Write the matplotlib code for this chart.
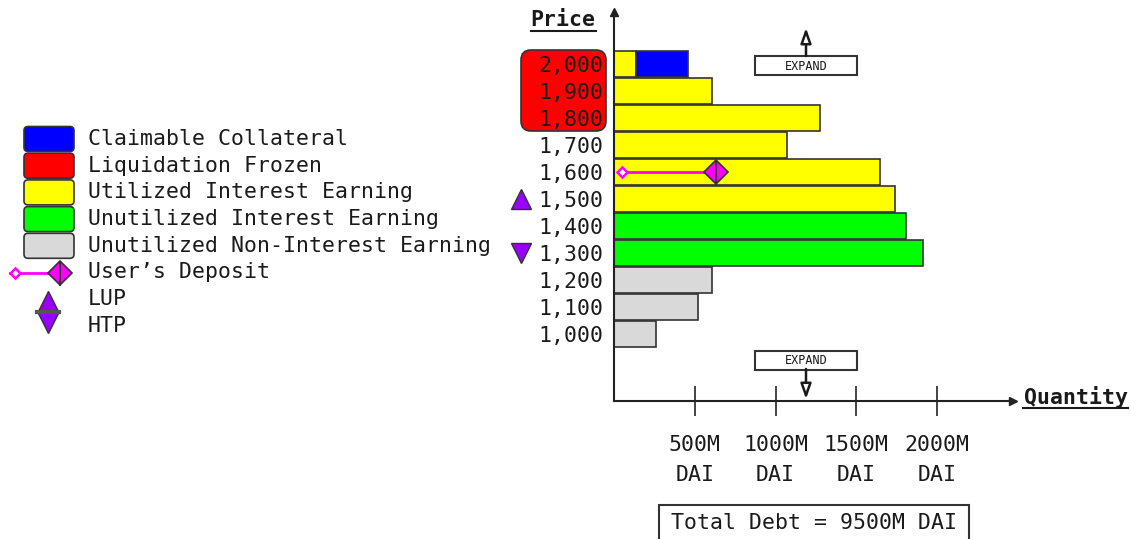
import matplotlib.pyplot as plt
from matplotlib.patches import Rectangle, FancyBboxPatch

plt.rcParams['font.family'] = ['DejaVu Sans Mono']

# bucket prices and the quantity (M DAI) deposited in each
prices = [2000, 1900, 1800, 1700, 1600, 1500, 1400, 1300, 1200, 1100, 1000]
price_labels = ['2,000', '1,900', '1,800', '1,700', '1,600', '1,500',
                '1,400', '1,300', '1,200', '1,100', '1,000']
quantity = [136, 607, 1275, 1071, 1647, 1740, 1808, 1913, 607, 520, 260]
status = ['utilized'] * 6 + ['unutilized'] * 2 + ['non_earning'] * 3

claim_price = 2000
claim_amount = 322

deposit_price = 1600
deposit_start = 50
deposit_end = 632

lup_price = 1500
htp_price = 1300

xticks = [500, 1000, 1500, 2000]
xtick_labels = ['500M\nDAI', '1000M\nDAI', '1500M\nDAI', '2000M\nDAI']
total_debt = '9500M DAI'

colors = {'claimable': '#0000ff', 'frozen': '#ff0000', 'utilized': '#ffff00',
          'unutilized': '#00ff00', 'non_earning': '#d9d9d9'}
magenta = '#ff00ff'
purple = '#9900ff'
edge = '#333333'
ink = '#1a1a1a'
fs = 15.5

fig = plt.figure(figsize=(11.31, 5.39), dpi=100)

# overlay in pixel coords for legend and annotations
ov = fig.add_axes([0, 0, 1, 1], zorder=0)
ov.set_xlim(0, 1131)
ov.set_ylim(539, 0)
ov.axis('off')

ax = fig.add_axes([614 / 1131, 138 / 539, 399 / 1131, 389 / 539], zorder=1)
ax.patch.set_alpha(0)
ax.set_xlim(0, 2470)
ax.set_ylim(752, 2193)

ax.barh(prices, quantity, height=98, color=[colors[s] for s in status],
        edgecolor=edge, linewidth=1.2, zorder=2)
ax.barh([claim_price], [claim_amount], left=quantity[prices.index(claim_price)],
        height=98, color=colors['claimable'], edgecolor=edge, linewidth=1.2, zorder=2)

# user's deposit
ax.plot([deposit_start, deposit_end], [deposit_price] * 2, color=magenta, lw=2, zorder=3)
ax.plot(deposit_start, deposit_price, 'D', ms=5.5, mfc='white', mec=magenta, mew=1.8, zorder=4)
ax.plot(deposit_end, deposit_price, 'D', ms=12.5, mfc=magenta, mec=edge, mew=1.2, zorder=4)
ax.plot(deposit_end, deposit_price, '|', ms=18, mec=edge, mew=1.5, zorder=5)

# LUP / HTP markers next to the price labels
tr = ax.get_yaxis_transform()
ax.plot(-0.233, lup_price, '^', ms=15, mfc=purple, mec=edge, mew=1, transform=tr, clip_on=False)
ax.plot(-0.233, htp_price, 'v', ms=15, mfc=purple, mec=edge, mew=1, transform=tr, clip_on=False)

# axes
for s in ['top', 'right']:
    ax.spines[s].set_visible(False)
for s in ['left', 'bottom']:
    ax.spines[s].set_linewidth(1.5)
    ax.spines[s].set_color('#222222')
ax.plot(0, 1, '^', color='#222222', ms=6, transform=ax.transAxes, clip_on=False)
ax.plot(1, 0, '>', color='#222222', ms=6, transform=ax.transAxes, clip_on=False)

ax.set_yticks(prices, price_labels)
ax.tick_params(axis='y', length=0, pad=8, labelsize=fs, labelcolor=ink)
ax.set_xticks(xticks, xtick_labels)
ax.tick_params(axis='x', direction='inout', length=22, width=1.2, color='#222222',
               pad=13.5, labelsize=fs, labelcolor=ink)
for lab in ax.get_xticklabels():
    lab.set_linespacing(1.6)

# red rounded box behind frozen prices
ov.add_patch(FancyBboxPatch((521, 50), 85, 81, boxstyle='round,pad=0,rounding_size=10',
                            fc=colors['frozen'], ec=edge, lw=1.2))

# axis titles
ov.text(563, 20, 'Price', ha='center', va='center', fontsize=fs, weight='bold', color=ink)
ov.plot([531, 596], [31, 31], color=ink, lw=1.5)
ov.text(1076, 397, 'Quantity', ha='center', va='center', fontsize=fs, weight='bold', color=ink)
ov.plot([1023, 1128], [408, 408], color=ink, lw=1.5)

# expand boxes
for by, y0, y1 in [(56, 56, 28), (351, 369, 399)]:
    ov.add_patch(Rectangle((755, by), 102, 19, fc='white', ec=edge, lw=1.5))
    ov.text(806, by + 10, 'EXPAND', ha='center', va='center', fontsize=8.5, color=ink)
    ov.annotate('', xy=(806, y1), xytext=(806, y0),
                arrowprops=dict(arrowstyle='-|>,head_length=0.9,head_width=0.32',
                                fc='white', ec=ink, lw=1.8, shrinkA=0, shrinkB=0))

# total debt
ov.add_patch(Rectangle((659, 505), 310, 40, fc='white', ec=edge, lw=1.5, clip_on=False))
ov.text(814, 523, 'Total Debt = ' + total_debt, ha='center', va='center', fontsize=fs, color=ink)

# legend
legend_items = [('claimable', 'Claimable Collateral'), ('frozen', 'Liquidation Frozen'),
                ('utilized', 'Utilized Interest Earning'), ('unutilized', 'Unutilized Interest Earning'),
                ('non_earning', 'Unutilized Non-Interest Earning')]
row = 26.7
for i, (key, label) in enumerate(legend_items):
    cy = 139 + i * row
    ov.add_patch(FancyBboxPatch((24, cy - 12.5), 50, 25, boxstyle='round,pad=0,rounding_size=4',
                                fc=colors[key], ec=edge, lw=1.2))
    ov.text(88, cy, label, ha='left', va='center', fontsize=fs, color=ink)

cy = 139 + 5 * row
ov.plot([10, 60], [cy, cy], color=magenta, lw=2)
ov.plot(15, cy, 'D', ms=5, mfc='white', mec=magenta, mew=1.8)
ov.plot(60, cy, 'D', ms=12.5, mfc=magenta, mec=edge, mew=1.2)
ov.plot(60, cy, '|', ms=18, mec=edge, mew=1.5)
ov.text(88, cy, "User’s Deposit", ha='left', va='center', fontsize=fs, color=ink)

cy = 139 + 6 * row
ov.plot(48, cy + 3, '^', ms=16, mfc=purple, mec=edge, mew=1)
ov.plot(48, cy + 23, 'v', ms=16, mfc=purple, mec=edge, mew=1)
ov.plot([37, 59], [cy + 13, cy + 13], color='#555555', lw=3)
ov.text(88, cy, 'LUP', ha='left', va='center', fontsize=fs, color=ink)
ov.text(88, cy + row, 'HTP', ha='left', va='center', fontsize=fs, color=ink)

fig.savefig('out.png', dpi=100)
